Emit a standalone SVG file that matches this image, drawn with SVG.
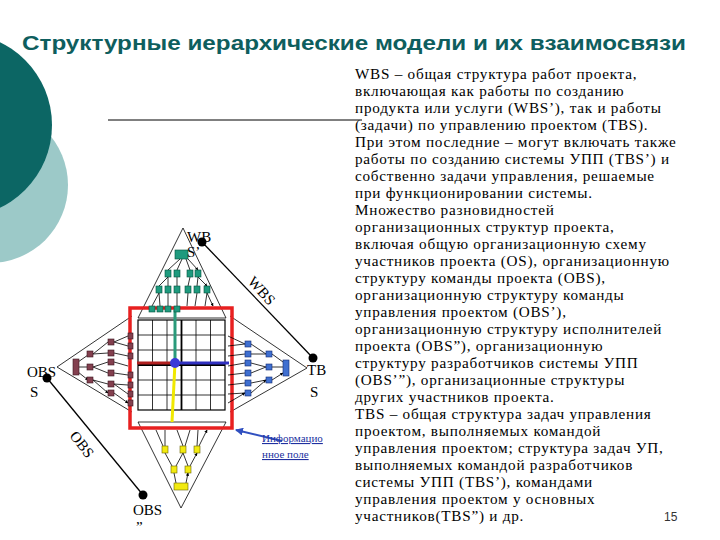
<svg xmlns="http://www.w3.org/2000/svg" width="720" height="540" viewBox="0 0 720 540">
<style>
.t{font-family:"Liberation Serif",serif;font-size:15.2px;letter-spacing:0.75px;fill:#000}
.l{font-family:"Liberation Serif",serif;font-size:15px;fill:#000}
.c{stroke:#000;stroke-width:0.8;fill:none;marker-end:url(#a)}
.g{fill:#1f9a7e;stroke:#05503c;stroke-width:0.6}
.m{fill:#83404f;stroke:#3a1520;stroke-width:0.6}
.b{fill:#3f6fd0;stroke:#122a70;stroke-width:0.6}
.y{fill:#f2ea10;stroke:#6a6400;stroke-width:0.6}
</style>
<defs>
<marker id="a" markerWidth="4" markerHeight="4" refX="3.5" refY="2" orient="auto"><path d="M0,0L4,2L0,4z" fill="#000"/></marker>
<marker id="ba" markerWidth="4" markerHeight="4" refX="3.5" refY="2" orient="auto"><path d="M0,0L4,2L0,4z" fill="#3050c0"/></marker>
</defs>
<rect width="720" height="540" fill="#fff"/>
<circle cx="-10" cy="185" r="78" fill="#9cc9c8"/>
<circle cx="-40" cy="125" r="92" fill="#0c6664"/>
<text x="22" y="50" font-family="Liberation Sans,sans-serif" font-weight="bold" font-size="21" fill="#0e5e5e" textLength="664" lengthAdjust="spacingAndGlyphs">Структурные иерархические модели и их взаимосвязи</text>
<line x1="108" y1="120" x2="362" y2="120" stroke="#000" stroke-width="1"/>
<g id="text">
<text class="t" x="355" y="79">WBS – общая структура работ проекта,</text>
<text class="t" x="355" y="96">включающая как работы по созданию</text>
<text class="t" x="355" y="113">продукта или услуги (WBS’), так и работы</text>
<text class="t" x="355" y="130">(задачи) по управлению проектом (TBS).</text>
<text class="t" x="355" y="147">При этом последние – могут включать также</text>
<text class="t" x="355" y="164">работы по созданию системы УПП (TBS’) и</text>
<text class="t" x="355" y="181">собственно задачи управления, решаемые</text>
<text class="t" x="355" y="198">при функционировании системы.</text>
<text class="t" x="355" y="215">Множество разновидностей</text>
<text class="t" x="355" y="232">организационных структур проекта,</text>
<text class="t" x="355" y="249">включая общую организационную схему</text>
<text class="t" x="355" y="266">участников проекта (OS), организационную</text>
<text class="t" x="355" y="283">структуру  команды проекта (OBS),</text>
<text class="t" x="355" y="300">организационную структуру  команды</text>
<text class="t" x="355" y="317">управления проектом  (OBS’),</text>
<text class="t" x="355" y="334">организационную структуру исполнителей</text>
<text class="t" x="355" y="351">проекта (OBS”), организационную</text>
<text class="t" x="355" y="368">структуру разработчиков системы УПП</text>
<text class="t" x="355" y="385">(OBS’”), организационные структуры</text>
<text class="t" x="355" y="402">других участников проекта.</text>
<text class="t" x="355" y="419">TBS – общая структура задач управления</text>
<text class="t" x="355" y="436">проектом, выполняемых  командой</text>
<text class="t" x="355" y="453">управления проектом; структура задач УП,</text>
<text class="t" x="355" y="470">выполняемых  командой разработчиков</text>
<text class="t" x="355" y="487">системы УПП (TBS’), командами</text>
<text class="t" x="355" y="504">управления проектом  у основных</text>
<text class="t" x="355" y="521">участников(TBS”) и др.</text>
<text x="664" y="521" font-family="Liberation Sans,sans-serif" font-size="12" fill="#333">15</text>
</g>
<g id="frame" fill="none" stroke="#000" stroke-width="0.8">
<path d="M183,228L138,318M183,228L226,318"/>
<path d="M57,367L132,316M57,367L132,412"/>
<path d="M307,368L230,316M307,368L230,412"/>
<path d="M181,508L138,422M181,508L226,422"/>
<line x1="138" y1="318" x2="226" y2="318"/><line x1="138" y1="422" x2="226" y2="422"/>
</g>
<g id="grid" fill="none" stroke="#000">
<rect x="138" y="320" width="87" height="90" fill="#fff" stroke-width="1.2"/>
<path stroke-width="0.8" d="M152.5,320V410M167,320V410M196,320V410M210.5,320V410M138,335H225M138,350H225M138,380H225M138,395H225"/>
<path stroke-width="1.8" d="M181.5,320V410M138,365H225"/>
</g>
<g id="axes">
<line x1="175" y1="310" x2="175" y2="363" stroke="#2a9a7a" stroke-width="3"/>
<line x1="137" y1="363" x2="175" y2="363" stroke="#b02020" stroke-width="3"/>
<line x1="175" y1="363" x2="229" y2="363" stroke="#3030c0" stroke-width="3"/>
<line x1="175" y1="363" x2="172" y2="422" stroke="#f0e800" stroke-width="3"/>
<circle cx="175" cy="363" r="5" fill="#3a3ad8"/>
</g>
<rect id="field" x="130" y="308" width="102" height="120" fill="none" stroke="#e82020" stroke-width="3.5"/>
<g id="connectors">
<path class="c" d="M180,259L168,270M182,259L177,270M186,259L190,270M188,259L198,270"/>
<path class="c" d="M168,277L159,286M168,277L168,286M177,277L177,286M190,277L188,286M198,277L197,286M198,277L207,286"/>
<path class="c" d="M159,293L152,306M159,293L160,306M168,293L168,306M177,293L177,306M188,293L187,306M197,293L195,306M207,293L205,306M207,293L213,306"/>
<path class="c" d="M78,362L88,355M78,367L88,367M78,372L88,380"/>
<path class="c" d="M93,354L108,342M93,354L108,353M93,367L108,362M93,367L108,373M93,380L108,384M93,380L108,393"/>
<path class="c" d="M114,342L128,336M114,342L128,346M114,353L128,356M114,362L128,366M114,373L128,375M114,384L128,385M114,384L128,394M114,393L128,403"/>
<path class="c" d="M228,336L245,344M228,346L245,344M228,356L245,354M228,366L245,363M228,375L245,373M228,385L245,383M228,394L245,393M228,403L245,393"/>
<path class="c" d="M251,344L266,354M251,354L266,354M251,363L266,367M251,373L266,367M251,383L266,380M251,393L266,380"/>
<path class="c" d="M272,354L283,362M272,367L283,367M272,380L283,373"/>
<path class="c" d="M176,483L174,473M186,483L188,473"/>
<path class="c" d="M172,466L165,453M176,466L183,453M188,466L183,453M190,466L197,453"/>
<path class="c" d="M163,446L156,430M165,446L165,430M183,446L177,430M185,446L190,430M197,446L198,430M199,446L207,430"/>
<line x1="202" y1="242" x2="313" y2="358" stroke="#000" stroke-width="1.3"/>
<line x1="47" y1="378" x2="143" y2="495" stroke="#000" stroke-width="1.3"/>
<line x1="282" y1="441" x2="236" y2="430" stroke="#3050c0" stroke-width="2" marker-end="url(#ba)"/>
</g>
<g id="wbs">
<rect class="g" x="175" y="250" width="13" height="9"/>
<rect class="g" x="165" y="270" width="6" height="7"/><rect class="g" x="174" y="270" width="6" height="7"/><rect class="g" x="187" y="270" width="6" height="7"/><rect class="g" x="195" y="270" width="6" height="7"/>
<rect class="g" x="156" y="286" width="6" height="7"/><rect class="g" x="165" y="286" width="6" height="7"/><rect class="g" x="174" y="286" width="6" height="7"/><rect class="g" x="185" y="286" width="6" height="7"/><rect class="g" x="194" y="286" width="6" height="7"/><rect class="g" x="204" y="286" width="6" height="7"/>
<rect class="g" x="149" y="306" width="6" height="6"/><rect class="g" x="157" y="306" width="6" height="6"/><rect class="g" x="165" y="306" width="6" height="6"/><rect class="g" x="174" y="306" width="6" height="6"/>
</g>
<g id="obs">
<rect class="m" x="73" y="359" width="6" height="16"/>
<rect class="m" x="87" y="351" width="6" height="6"/><rect class="m" x="87" y="364" width="6" height="6"/><rect class="m" x="87" y="377" width="6" height="6"/>
<rect class="m" x="108" y="339" width="6" height="6"/><rect class="m" x="108" y="350" width="6" height="6"/><rect class="m" x="108" y="359" width="6" height="6"/><rect class="m" x="108" y="370" width="6" height="6"/><rect class="m" x="108" y="381" width="6" height="6"/><rect class="m" x="108" y="390" width="6" height="6"/>
<rect class="m" x="128" y="333" width="5" height="6"/><rect class="m" x="128" y="343" width="5" height="6"/><rect class="m" x="128" y="353" width="5" height="6"/><rect class="m" x="128" y="372" width="5" height="6"/><rect class="m" x="128" y="382" width="5" height="6"/><rect class="m" x="128" y="391" width="5" height="6"/><rect class="m" x="128" y="400" width="5" height="6"/>
</g>
<g id="tbs">
<rect class="b" x="283" y="360" width="6" height="16"/>
<rect class="b" x="266" y="351" width="6" height="6"/><rect class="b" x="266" y="364" width="6" height="6"/><rect class="b" x="266" y="377" width="6" height="6"/>
<rect class="b" x="245" y="341" width="6" height="6"/><rect class="b" x="245" y="351" width="6" height="6"/><rect class="b" x="245" y="360" width="6" height="6"/><rect class="b" x="245" y="370" width="6" height="6"/><rect class="b" x="245" y="380" width="6" height="6"/><rect class="b" x="245" y="390" width="6" height="6"/>
</g>
<g id="obs2">
<rect class="y" x="174" y="483" width="14" height="7"/>
<rect class="y" x="171" y="466" width="6" height="7"/><rect class="y" x="185" y="466" width="6" height="7"/>
<rect class="y" x="162" y="446" width="6" height="7"/><rect class="y" x="180" y="446" width="6" height="7"/><rect class="y" x="194" y="446" width="6" height="7"/>
</g>
<g id="labels">
<circle cx="202" cy="242" r="4.5"/><circle cx="313" cy="358" r="4.5"/><circle cx="47" cy="378" r="4.5"/><circle cx="143" cy="495" r="4.5"/>
<text class="l" x="187" y="242">WB</text><text class="l" x="187" y="257" font-size="11">S’</text>
<text class="l" x="307" y="375">TB</text><text class="l" x="310" y="397">S</text>
<text class="l" x="27" y="377">OBS</text><text class="l" x="30" y="397">S</text>
<text class="l" x="133" y="515">OBS</text><text class="l" x="136" y="532">”</text>
<text class="l" transform="translate(247,282) rotate(48)">WBS</text>
<text class="l" transform="translate(69,436) rotate(52)">OBS</text>
<text x="262" y="442" font-family="Liberation Serif,serif" font-size="11" fill="#2030a0" text-decoration="underline">Информацио</text>
<text x="262" y="458" font-family="Liberation Serif,serif" font-size="11" fill="#2030a0" text-decoration="underline">нное поле</text>
</g>
</svg>
